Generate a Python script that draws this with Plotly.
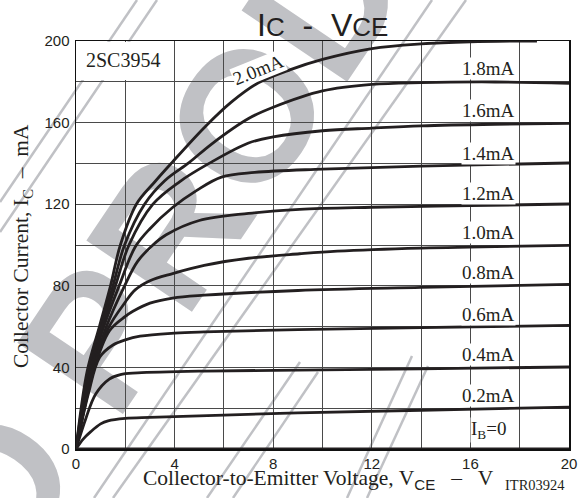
import math
import plotly.graph_objects as go

# ---------------- data ----------------
x_ticks = [0, 4, 8, 12, 16, 20]
y_ticks = [0, 40, 80, 120, 160, 200]

v_00 = [0, 20]
i_00 = [0, 0]
v_02 = [0, 0.3, 0.6, 1.0, 1.3, 2.0, 3.0, 5.0, 9.0, 14, 20]
i_02 = [0, 5, 8.5, 12.3, 13.8, 15.0, 15.5, 16.2, 17.7, 19.0, 20.5]
v_04 = [0, 0.4, 0.8, 1.35, 1.8, 2.5, 5.2, 9.0, 14, 20]
i_04 = [0, 15, 27, 34.3, 36.5, 37.3, 38.2, 38.7, 39.3, 40.2]
v_06 = [0, 0.5, 0.96, 1.5, 2.0, 2.6, 4.0, 5.2, 9.0, 14, 20]
i_06 = [0, 27, 45, 51, 53.5, 55.3, 56.8, 57.4, 58.5, 59.5, 60.6]
v_08 = [0, 0.7, 1.36, 2.0, 2.31, 3.0, 3.92, 5.2, 9.0, 14, 20]
i_08 = [0, 38, 58, 65, 67.5, 71.5, 74, 75.4, 77.7, 79.2, 80.7]
v_10 = [0, 0.7, 1.3, 2.0, 2.4, 3.0, 3.92, 5.2, 7.0, 9.07, 10.6, 14, 20]
i_10 = [0, 38, 59, 72, 78, 82.5, 86, 90, 93.5, 95.7, 97, 98.5, 99.8]
v_12 = [0, 0.65, 1.2, 1.97, 2.5, 3.12, 3.66, 5.0, 7.0, 9.07, 12, 16, 20]
i_12 = [0, 38, 59, 80, 92, 100, 105, 112, 115.5, 117.5, 118.5, 119.3, 120.1]
v_14 = [0, 0.6, 1.1, 1.75, 2.4, 3.0, 3.93, 4.9, 5.9, 7.25, 10, 14, 20]
i_14 = [0, 38, 59, 80, 99, 108, 118.5, 126.8, 133.3, 135.6, 137.2, 138.7, 140.2]
v_16 = [0, 0.55, 1.05, 1.6, 2.15, 3.12, 4.2, 5.4, 7.0, 8.0, 10, 12, 14, 17, 20]
i_16 = [0, 38, 59, 80, 100, 120, 131, 140, 150, 153, 156, 157.3, 158.4, 159.2, 159.6]
v_18 = [0, 0.5, 1.0, 1.5, 1.97, 2.78, 3.6, 4.6, 5.5, 7.0, 8.0, 10, 12, 14, 17, 20]
i_18 = [0, 38, 59, 80, 100, 120, 131.5, 140.5, 149.5, 162, 167.5, 175.5, 178.7, 179.6, 179.9, 179.3]
v_20 = [0, 0.45, 0.95, 1.4, 1.8, 2.45, 3.2, 3.9, 5.2, 6.3, 7.4, 8.7, 10, 12, 14, 16, 18.7]
i_20 = [0, 38, 60, 80, 100, 120, 131, 140.5, 157.5, 170, 179.5, 186, 191, 196.3, 198.6, 199.6, 200]

curves_v = [v_00, v_02, v_04, v_06, v_08, v_10, v_12, v_14, v_16, v_18, v_20]
curves_i = [i_00, i_02, i_04, i_06, i_08, i_10, i_12, i_14, i_16, i_18, i_20]

ib_labels = ["I<sub>B</sub>=0", "0.2mA", "0.4mA", "0.6mA", "0.8mA",
             "1.0mA", "1.2mA", "1.4mA", "1.6mA", "1.8mA"]
ib_label_y = [9.3, 26, 46.2, 66, 86.3, 105.9, 125.4, 145, 166, 186.5]
ib_label_x = 16.75
top_label = "2.0mA"
top_label_pos = (7.42, 186)

# ---------------- figure ----------------
W, H = 584, 498
ML, MR, MT, MB = 76, 15, 41, 49
PW, PH = W - ML - MR, H - MT - MB


def px(X):   # page pixel -> paper x
    return (X - ML) / PW


def py(Y):   # page pixel -> paper y
    return (H - MB - Y) / PH


INK = "#231f20"
GRID = "#4a4a4a"
WM = "#c0c1c5"
SERIF = "Liberation Serif"
SANS = "Liberation Sans"

fig = go.Figure()
for v, i in zip(curves_v, curves_i):
    fig.add_trace(go.Scatter(x=v, y=i, mode="lines",
                             line=dict(color=INK, width=2.8, shape="spline", smoothing=1.0),
                             hoverinfo="skip", showlegend=False, cliponaxis=False))

axis_common = dict(showline=True, mirror=True, linecolor="#111", linewidth=1.5,
                   showgrid=True, gridcolor=GRID, gridwidth=1, zeroline=False,
                   ticks="", tickfont=dict(family=SANS, size=15, color=INK))
fig.update_xaxes(range=[0, 20], tickvals=x_ticks, ticktext=[str(t) for t in x_ticks],
                 minor=dict(dtick=2, showgrid=True, gridcolor=GRID, gridwidth=1),
                 **axis_common)
fig.update_yaxes(range=[0, 200], tickvals=y_ticks, ticktext=[str(t) for t in y_ticks],
                 minor=dict(dtick=20, showgrid=True, gridcolor=GRID, gridwidth=1),
                 ticklabelstandoff=2, **axis_common)

shapes = []
# watermark text (below grid)
ang = 56
dx, dy = math.cos(math.radians(ang)), math.sin(math.radians(ang))
cx, cy = 252, 76
shapes.append(dict(type="line", xref="paper", yref="paper", layer="below",
                   x0=px(cx - dx * 40), y0=py(cy + dy * 40), x1=px(cx + dx * 40), y1=py(cy - dy * 40),
                   line=dict(width=0, color="rgba(0,0,0,0)"),
                   label=dict(text="D PRODUCT", textangle=-ang, textposition="middle",
                              xanchor="center", yanchor="middle",
                              font=dict(family=SANS, size=185, color=WM, weight="bold"))))
# watermark thin diagonal lines (page pixels)
for (xa, ya, xb, yb) in [(94, 498, 432, 0), (113, 498, 466, 0),
                         (0, 202, 137, 0), (0, 232, 157, 0),
                         (207, 498, 300, 362), (233, 498, 318, 372),
                         (347, 498, 412, 356), (367, 498, 428, 366)]:
    shapes.append(dict(type="line", xref="paper", yref="paper", layer="below",
                       x0=px(xa), y0=py(ya), x1=px(xb), y1=py(yb),
                       line=dict(width=2.5, color=WM)))
# white box behind the part number
shapes.append(dict(type="rect", xref="paper", yref="paper", layer="above",
                   x0=px(77.5), x1=px(171), y0=py(80), y1=py(42),
                   fillcolor="white", line=dict(width=0)))
fig.update_layout(shapes=shapes)

C = dict(xanchor="center", yanchor="middle", showarrow=False)
ann = []
for t, yv in zip(ib_labels, ib_label_y):
    ann.append(dict(x=ib_label_x, y=yv, xref="x", yref="y", text=t,
                    font=dict(family=SERIF, size=19, color=INK), bgcolor="white", borderpad=0, **C))
ann.append(dict(x=top_label_pos[0], y=top_label_pos[1], xref="x", yref="y", text=top_label,
                textangle=-22, font=dict(family=SERIF, size=19, color=INK),
                bgcolor="white", borderpad=0, **C))
ann.append(dict(x=px(123), y=py(60), xref="paper", yref="paper", text="2SC3954",
                font=dict(family=SERIF, size=20, color=INK), **C))
ann.append(dict(x=px(322), y=py(25), xref="paper", yref="paper",
                text="I<span style='font-size:26px'>C</span>  -  V<span style='font-size:26px'>CE</span>",
                font=dict(family=SANS, size=32, color=INK), **C))
ann.append(dict(x=px(22), y=py(246), xref="paper", yref="paper", textangle=-90,
                text="Collector Current, I<sub>C</sub>  –  mA",
                font=dict(family=SERIF, size=21.5, color=INK), **C))
ann.append(dict(x=px(318), y=py(479), xref="paper", yref="paper",
                text="Collector-to-Emitter Voltage, V<sub><span style='font-family:Liberation Sans'>CE</span></sub>   –   V",
                font=dict(family=SERIF, size=21.5, color=INK), **C))
ann.append(dict(x=px(535), y=py(485), xref="paper", yref="paper", text="ITR03924",
                font=dict(family=SERIF, size=14.5, color=INK), **C))
fig.update_layout(annotations=ann)

fig.update_layout(width=W, height=H, margin=dict(l=ML, r=MR, t=MT, b=MB, autoexpand=False),
                  paper_bgcolor="white", plot_bgcolor="rgba(0,0,0,0)", showlegend=False)

fig.write_html("out.html", config={"staticPlot": True, "displayModeBar": False},
               post_script="document.body.style.margin='0px';"
                           "document.documentElement.style.overflow='hidden';"
                           "document.body.style.overflow='hidden';")
